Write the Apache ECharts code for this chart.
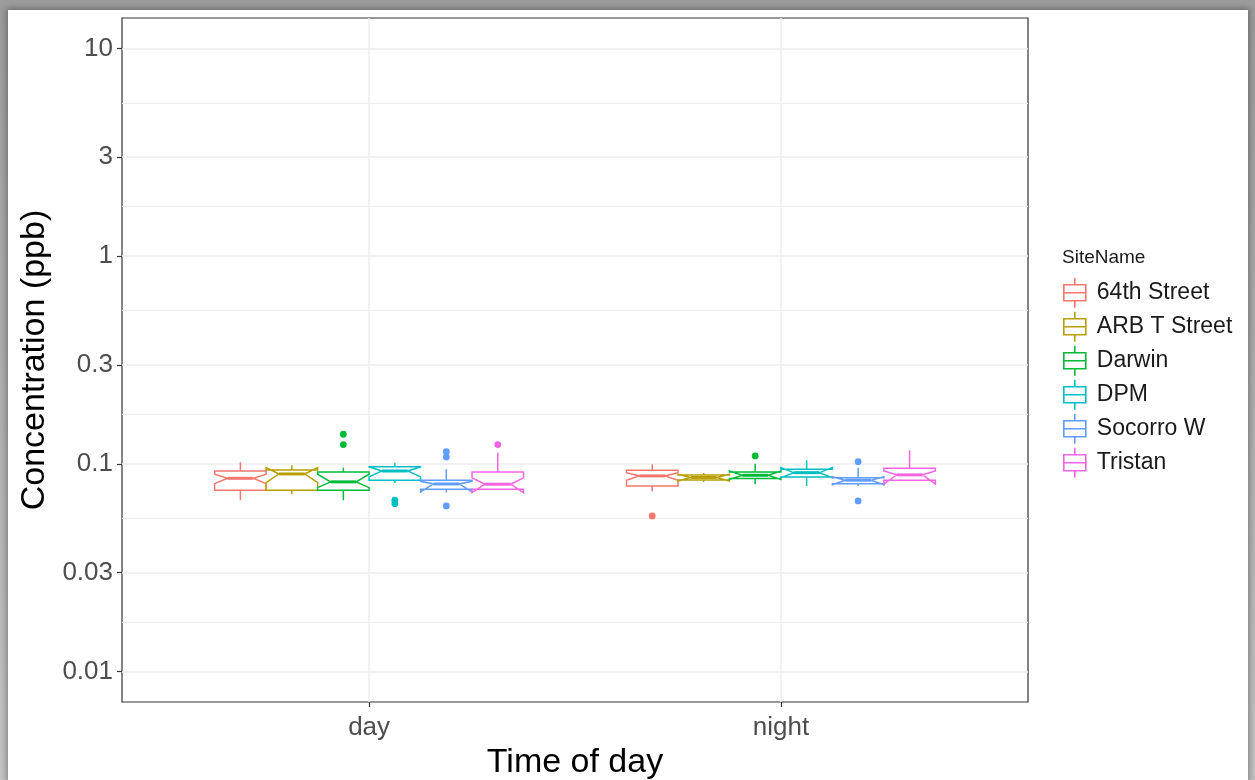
<!DOCTYPE html>
<html>
<head>
<meta charset="utf-8">
<title>Concentration by time of day</title>
<script src="https://cdn.jsdelivr.net/npm/echarts@6/dist/echarts.min.js"></script>
<style>
  html, body { margin: 0; padding: 0; }
  body {
    width: 1255px; height: 780px; overflow: hidden; position: relative;
    background: linear-gradient(#9c9c9c, #c4c4c4);
  }
  #chart {
    position: absolute; left: 8px; top: 10px; width: 1240px; height: 770px;
    background: #fff; box-shadow: 0 0 6px 2px rgba(0, 0, 0, 0.3);
  }
</style>
</head>
<body>
<div id="chart"></div>
<script>
// sites (dodge order) and x groups
const sites = ['64th Street', 'ARB T Street', 'Darwin', 'DPM', 'Socorro W', 'Tristan'];
const times = ['day', 'night'];
const colors = ['#F8766D', '#B79F00', '#00BA38', '#00BFC4', '#619CFF', '#F564E3'];

// y tick labels (ppb, log scale)
const majorVals = [0.01, 0.03, 0.1, 0.3, 1, 3, 10];
const majorLabels = ['0.01', '0.03', '0.1', '0.3', '1', '3', '10'];

// box stats per site (ppb)
const dayLow     = [0.0669, 0.0715, 0.0669, 0.0810, 0.0729, 0.0750];
const dayQ1      = [0.0748, 0.0748, 0.0748, 0.0835, 0.0755, 0.0755];
const dayNotchLo = [0.0804, 0.0813, 0.0769, 0.0866, 0.0733, 0.0728];
const dayMed     = [0.0853, 0.0895, 0.0820, 0.0925, 0.0801, 0.0799];
const dayNotchHi = [0.0892, 0.0960, 0.0892, 0.0968, 0.0825, 0.0857];
const dayQ3      = [0.0925, 0.0936, 0.0915, 0.0970, 0.0835, 0.0915];
const dayHigh    = [0.1020, 0.0986, 0.0960, 0.1014, 0.0944, 0.1133];
const dayOut     = [[], [], [0.139, 0.124], [0.0669, 0.0644], [0.1146, 0.108, 0.0628], [0.124]];

const nightLow     = [0.0736, 0.0819, 0.0799, 0.0784, 0.0784, 0.0828];
const nightQ1      = [0.0784, 0.0838, 0.0850, 0.0866, 0.0804, 0.0835];
const nightNotchLo = [0.0835, 0.0828, 0.0842, 0.0859, 0.0795, 0.0800];
const nightMed     = [0.0876, 0.0861, 0.0882, 0.0908, 0.0835, 0.0886];
const nightNotchHi = [0.0908, 0.0893, 0.0925, 0.0960, 0.0868, 0.0925];
const nightQ3      = [0.0933, 0.0885, 0.0915, 0.0943, 0.0859, 0.0953];
const nightHigh    = [0.0997, 0.0905, 0.1003, 0.1042, 0.0960, 0.1164];
const nightOut     = [[0.0562], [], [0.1093], [], [0.1026, 0.0664], []];

const lg = Math.log10;
const yMin = -2.146, yMax = 1.147;   // panel limits in log10 space
const boxW = 0.75 / sites.length;    // dodge width per box

const majorLog = majorVals.map(lg);
const minorLog = [];
for (let i = 1; i < majorLog.length; i++) minorLog.push((majorLog[i - 1] + majorLog[i]) / 2);

function statsFor(i) {
  return [
    [1, dayLow[i], dayQ1[i], dayNotchLo[i], dayMed[i], dayNotchHi[i], dayQ3[i], dayHigh[i]],
    [2, nightLow[i], nightQ1[i], nightNotchLo[i], nightMed[i], nightNotchHi[i], nightQ3[i], nightHigh[i]]
  ].map(r => r.map((v, k) => k === 0 ? v : lg(v)));
}

function renderBox(si) {
  return function (params, api) {
    const g = api.value(0);
    const xc = g + (si - (sites.length - 1) / 2) * boxW;
    const yOf = v => api.coord([xc, v])[1];
    const cx = api.coord([xc, 0])[0];
    const left = api.coord([xc - boxW / 2, 0])[0];
    const right = api.coord([xc + boxW / 2, 0])[0];
    const ind = (right - left) / 4;
    const low = yOf(api.value(1)), q1 = yOf(api.value(2)), nlo = yOf(api.value(3));
    const med = yOf(api.value(4)), nhi = yOf(api.value(5)), q3 = yOf(api.value(6));
    const high = yOf(api.value(7));
    const col = colors[si];
    const line = { stroke: col, lineWidth: 1.5, fill: null };
    const kids = [
      { type: 'line', shape: { x1: cx, y1: q3, x2: cx, y2: high }, style: line },
      { type: 'line', shape: { x1: cx, y1: q1, x2: cx, y2: low }, style: line },
      { type: 'polygon', shape: { points: [
          [left, q3], [left, nhi], [left + ind, med], [left, nlo], [left, q1],
          [right, q1], [right, nlo], [right - ind, med], [right, nhi], [right, q3]
        ] }, style: { fill: '#fff', stroke: col, lineWidth: 1.5 } },
      { type: 'line', shape: { x1: left + ind, y1: med, x2: right - ind, y2: med },
        style: { stroke: col, lineWidth: 3 } }
    ];
    const outs = (g === 1 ? dayOut : nightOut)[si];
    outs.forEach(v => {
      kids.push({ type: 'circle', shape: { cx: cx, cy: yOf(lg(v)), r: 3.4 }, style: { fill: col } });
    });
    return { type: 'group', children: kids };
  };
}

const keyIcon = 'path://M11,0V7M0,7H22V23H0ZM0,15H22M11,23V30';

const chart = echarts.init(document.getElementById('chart'));
chart.setOption({
  animation: false,
  textStyle: { fontFamily: 'Liberation Sans, Arial, sans-serif' },
  title: {
    text: 'SiteName', left: 1054, top: 238, padding: 0,
    textStyle: { fontSize: 19, fontWeight: 'normal', color: '#1a1a1a' }
  },
  legend: {
    orient: 'vertical', left: 1055, top: 267, padding: 0,
    itemWidth: 22, itemHeight: 30, itemGap: 2.4,
    textStyle: { fontSize: 23, color: '#1a1a1a', padding: [0, 0, 0, 6] },
    data: sites.map((s, i) => ({
      name: s, icon: keyIcon,
      itemStyle: { color: '#fff', borderColor: colors[i], borderWidth: 1.6 }
    }))
  },
  grid: {
    left: 114, top: 8, width: 906, height: 684,
    outerBoundsMode: 'none', containLabel: false,
    show: true, borderColor: '#333', borderWidth: 1.2, backgroundColor: 'transparent'
  },
  xAxis: {
    type: 'value', min: 0.4, max: 2.6, position: 'bottom',
    axisLine: { show: false, onZero: false },
    axisTick: { customValues: [1, 2], length: 5, lineStyle: { color: '#333', width: 1.2 } },
    axisLabel: {
      customValues: [1, 2], formatter: v => times[Math.round(v) - 1],
      fontSize: 26, color: '#4d4d4d', margin: 13
    },
    splitLine: { show: true, lineStyle: { color: '#ededed', width: 1.5 } },
    name: 'Time of day', nameLocation: 'middle', nameGap: 42,
    nameTextStyle: { fontSize: 34, color: '#000' }
  },
  yAxis: [
    {
      type: 'value', min: yMin, max: yMax,
      axisLine: { show: false, onZero: false },
      axisTick: { customValues: majorLog, length: 5, lineStyle: { color: '#333', width: 1.2 } },
      axisLabel: {
        customValues: majorLog, fontSize: 26, color: '#4d4d4d', margin: 9,
        formatter: v => {
          const i = majorLog.findIndex(m => Math.abs(m - v) < 1e-6);
          return i >= 0 ? majorLabels[i] : '';
        }
      },
      splitLine: { show: true, lineStyle: { color: '#ededed', width: 1.5 } },
      name: 'Concentration (ppb)', nameLocation: 'middle', nameGap: 68,
      nameTextStyle: { fontSize: 34, color: '#000' }
    },
    {
      type: 'value', min: yMin, max: yMax, position: 'left', offset: 0,
      axisLine: { show: false, onZero: false },
      axisTick: { show: false, customValues: minorLog },
      axisLabel: { show: false },
      splitLine: { show: true, lineStyle: { color: '#ededed', width: 1 } }
    }
  ],
  series: sites.map((s, i) => ({
    name: s, type: 'custom', xAxisIndex: 0, yAxisIndex: 0,
    renderItem: renderBox(i),
    encode: { x: 0, y: [1, 2, 3, 4, 5, 6, 7] },
    itemStyle: { color: colors[i] },
    data: statsFor(i)
  }))
});
</script>
</body>
</html>
